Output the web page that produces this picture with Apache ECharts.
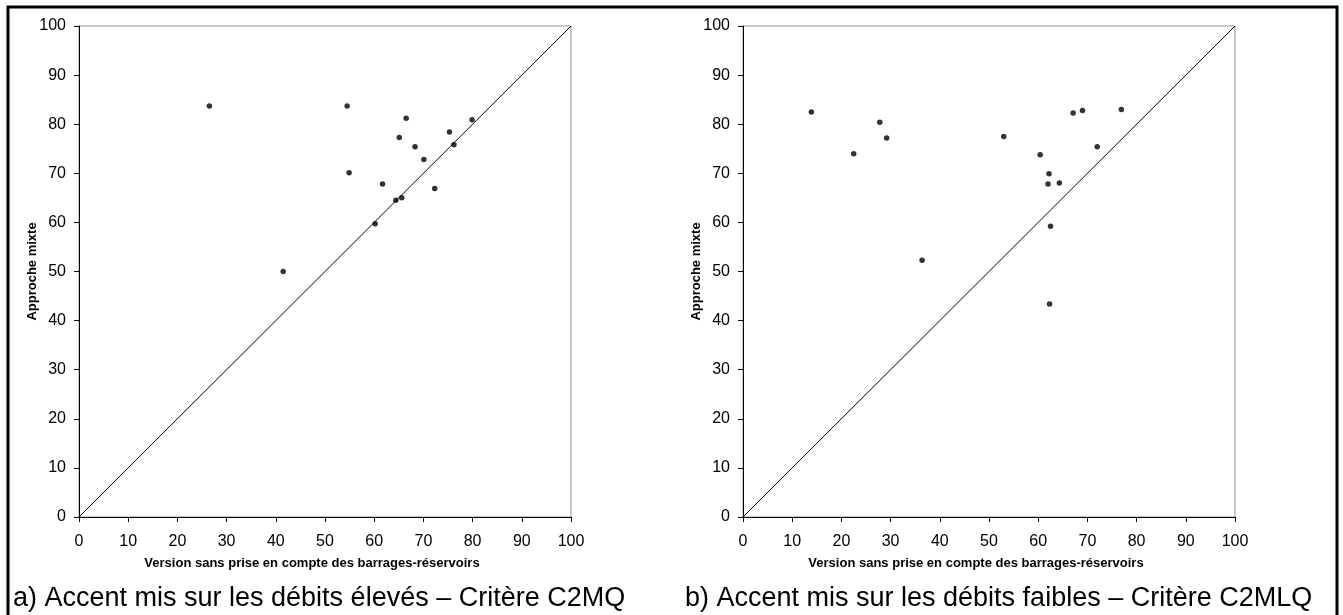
<!DOCTYPE html>
<html>
<head>
<meta charset="utf-8">
<script src="https://cdn.jsdelivr.net/npm/echarts@6/dist/echarts.min.js"></script>
<style>
  html, body { margin: 0; padding: 0; background: #fff; }
  #main { width: 1343px; height: 615px; }
</style>
</head>
<body>
<div id="main"></div>
<script>
// a) C2MQ : x = version sans barrages, y = approche mixte
const ptsHighX = [26.5, 54.5, 66.5, 79.9, 75.3, 65.1, 76.2, 68.3, 70.1, 54.9, 61.7, 72.3, 65.6, 64.4, 60.2, 41.5]
const ptsHighY = [83.7, 83.7, 81.2, 80.9, 78.4, 77.3, 75.8, 75.4, 72.8, 70.1, 67.8, 66.9, 65.0, 64.5, 59.7, 50.0]
// b) C2MLQ
const ptsLowX = [13.9, 27.8, 29.2, 22.5, 53.0, 60.4, 67.1, 69.0, 76.9, 72.0, 62.2, 62.0, 64.3, 62.5, 36.4, 62.3]
const ptsLowY = [82.5, 80.4, 77.2, 74.0, 77.5, 73.8, 82.3, 82.8, 83.0, 75.4, 69.9, 67.8, 68.0, 59.2, 52.3, 43.4]
const diagonal = [[0, 0], [100, 100]]
const captions = [
  'a) Accent mis sur les débits élevés – Critère C2MQ',
  'b) Accent mis sur les débits faibles – Critère C2MLQ'
]
const xName = 'Version sans prise en compte des barrages-réservoirs'
const yName = 'Approche mixte'

const font = '"Liberation Sans", Arial, sans-serif'
let myChart = echarts.init(document.getElementById('main'))

const zip = (xs, ys) => xs.map((x, i) => [x, ys[i]])

const mkX = (gi) => ({
  gridIndex: gi, type: 'value', min: 0, max: 100, interval: 10,
  name: xName, nameLocation: 'middle', nameGap: 40, nameMoveOverlap: false,
  nameTextStyle: { fontFamily: font, fontSize: 13, fontWeight: 'bold', color: '#000', padding: [0, 26, 0, 0] },
  axisLine: { lineStyle: { color: '#000', width: 1 } },
  axisTick: { show: true, length: 5, lineStyle: { color: '#000' } },
  axisLabel: { fontFamily: font, fontSize: 16, color: '#000', margin: 17 },
  splitLine: { show: false }
})
const mkY = (gi) => ({
  gridIndex: gi, type: 'value', min: 0, max: 100, interval: 10,
  name: yName, nameLocation: 'middle', nameGap: 40, nameRotate: 90, nameMoveOverlap: false,
  nameTextStyle: { fontFamily: font, fontSize: 13, fontWeight: 'bold', color: '#000' },
  axisLine: { show: true, lineStyle: { color: '#000', width: 1 } },
  axisTick: { show: true, length: 5, lineStyle: { color: '#000' } },
  axisLabel: { fontFamily: font, fontSize: 16, color: '#000', margin: 13 },
  splitLine: { show: false }
})
const dots = (gi, data) => ({
  type: 'scatter', xAxisIndex: gi, yAxisIndex: gi, data: data,
  symbolSize: 5.5, itemStyle: { color: '#000' }, z: 3
})
const diag = (gi) => ({
  type: 'line', xAxisIndex: gi, yAxisIndex: gi, data: diagonal,
  showSymbol: false, lineStyle: { color: '#000', width: 1 }, z: 2
})

myChart.setOption({
  animation: false,
  backgroundColor: '#fff',
  title: [
    { text: captions[0], left: 13, top: 585, padding: 0,
      textStyle: { fontFamily: font, fontSize: 27, fontWeight: 'normal', color: '#000' } },
    { text: captions[1], left: 685, top: 585, padding: 0,
      textStyle: { fontFamily: font, fontSize: 27, fontWeight: 'normal', color: '#000' } }
  ],
  grid: [
    { left: 79, top: 26, width: 492, height: 491, show: true, borderColor: '#999', borderWidth: 1 },
    { left: 743, top: 26, width: 492, height: 491, show: true, borderColor: '#999', borderWidth: 1 }
  ],
  xAxis: [mkX(0), mkX(1)],
  yAxis: [mkY(0), mkY(1)],
  series: [
    diag(0), dots(0, zip(ptsHighX, ptsHighY)),
    diag(1), dots(1, zip(ptsLowX, ptsLowY))
  ],
  graphic: [{
    type: 'rect', silent: true,
    shape: { x: 8, y: 7, width: 1329, height: 640 },
    style: { fill: 'none', stroke: '#000', lineWidth: 3 }
  }]
})
</script>
</body>
</html>
